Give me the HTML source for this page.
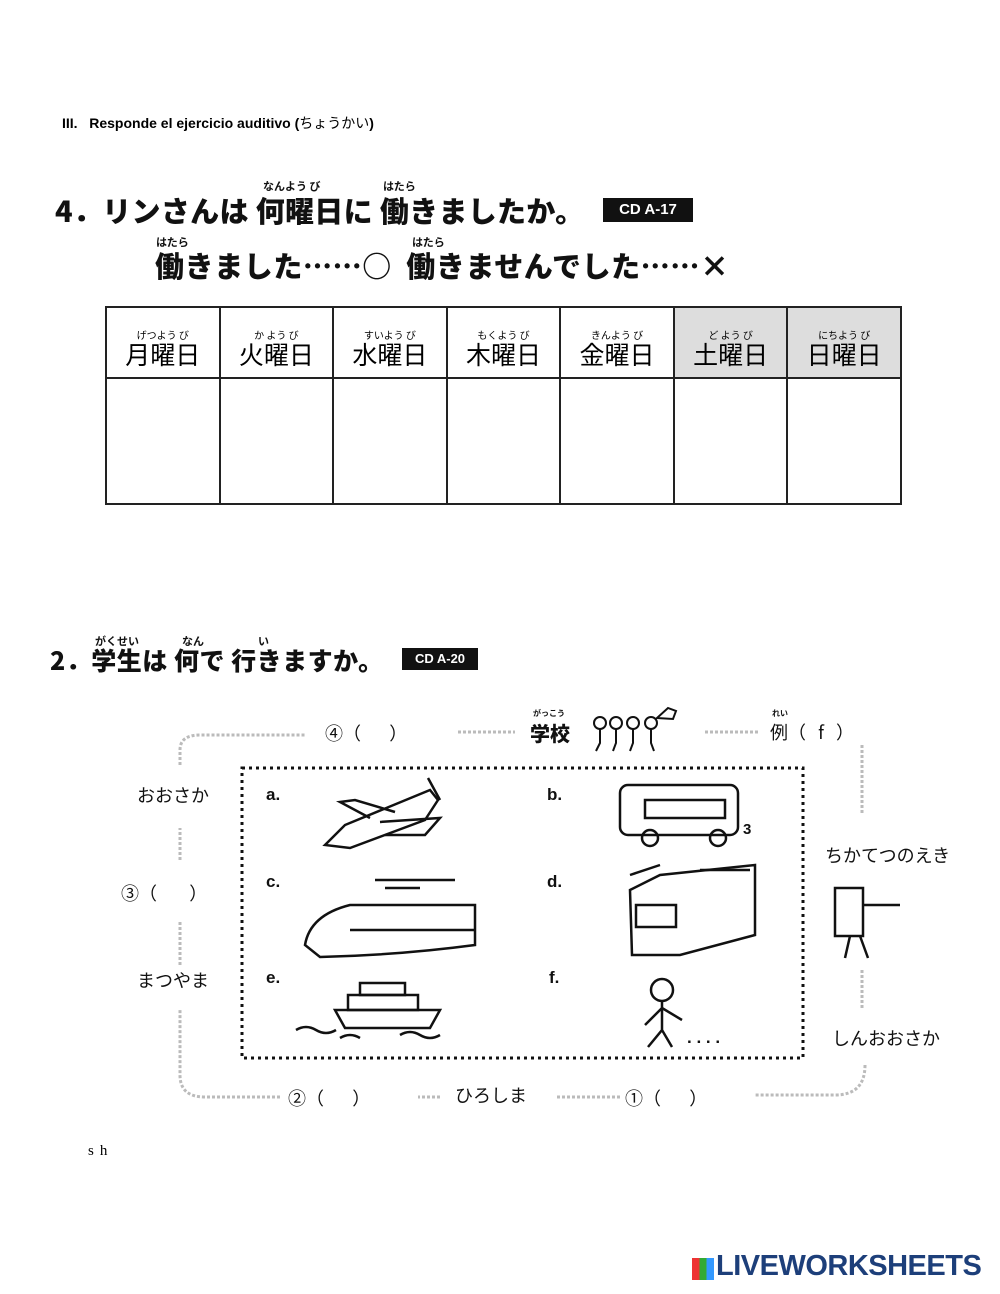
<!DOCTYPE html>
<html><head><meta charset="utf-8"><style>
body{margin:0;width:1000px;height:1294px;background:#fff;position:relative;font-family:"Liberation Sans","Noto Sans CJK JP",sans-serif;overflow:hidden}
.a{position:absolute;white-space:nowrap}
.h{font-family:"Noto Sans CJK JP",sans-serif;font-weight:900;color:#111}
.rb{font-size:11px;font-weight:700}
.cd{background:#111;color:#fff;font-weight:700;font-size:15px;text-align:center}
table{position:absolute;left:105px;top:306px;border-collapse:collapse;table-layout:fixed;width:797px}
td{border:2px solid #222;padding:0;text-align:center;font-family:"Noto Sans CJK JP",sans-serif;box-sizing:border-box}
td.h1{height:71px;font-size:25px;line-height:1;vertical-align:bottom;padding-bottom:10px}
td.h1 small{display:block;font-size:10px;margin-bottom:2px}
td.g{background:#ddd}
td.b{height:126px}
.j{font-family:"Noto Sans CJK JP",sans-serif;font-size:18px;color:#111}
</style></head><body>
<div class="a" style="left:62px;top:113px;font-size:14px;font-weight:700">III.&nbsp;&nbsp; Responde el ejercicio auditivo (<span style="font-weight:400;font-family:'Noto Sans CJK JP'">ちょうかい</span>)</div>

<div class="a h rb" style="left:263px;top:178px">なんよう び</div>
<div class="a h rb" style="left:383px;top:178px">はたら</div>
<div class="a h" style="left:55px;top:190px;font-size:29px;line-height:40px;letter-spacing:0.3px">4．リンさんは 何曜日に 働きましたか。</div>
<div class="a cd" style="left:603px;top:198px;width:90px;height:24px;line-height:24px">CD A-17</div>
<div class="a h rb" style="left:156px;top:234px">はたら</div>
<div class="a h rb" style="left:412px;top:234px">はたら</div>
<div class="a h" style="left:155px;top:245px;font-size:29px;line-height:40px;letter-spacing:0.6px">働きました……○&nbsp; 働きませんでした……×</div>

<table><tr>
<td class="h1"><small>げつよう び</small>月曜日</td><td class="h1"><small>か よう び</small>火曜日</td><td class="h1"><small>すいよう び</small>水曜日</td><td class="h1"><small>もくよう び</small>木曜日</td><td class="h1"><small>きんよう び</small>金曜日</td><td class="h1 g"><small>ど よう び</small>土曜日</td><td class="h1 g"><small>にちよう び</small>日曜日</td>
</tr><tr><td class="b"></td><td class="b"></td><td class="b"></td><td class="b"></td><td class="b"></td><td class="b"></td><td class="b"></td></tr></table>

<div class="a h rb" style="left:95px;top:633px">がくせい</div>
<div class="a h rb" style="left:182px;top:633px">なん</div>
<div class="a h rb" style="left:258px;top:633px">い</div>
<div class="a h" style="left:50px;top:642px;font-size:25px;line-height:36px;letter-spacing:0.5px">2．学生は 何で 行きますか。</div>
<div class="a cd" style="left:402px;top:648px;width:76px;height:22px;line-height:22px;font-size:13px">CD A-20</div>

<svg class="a" style="left:0;top:0" width="1000" height="1294">
<g stroke="#bbb" stroke-width="3" fill="none" stroke-dasharray="3 2">
<path d="M180 765 V750 Q180 735 200 735 H305"/>
<path d="M458 732 H515"/><path d="M705 732 H760"/>
<path d="M862 745 V815"/><path d="M862 970 V1010"/>
<path d="M865 1065 Q865 1095 835 1095 H755"/>
<path d="M620 1097 H555"/><path d="M440 1097 H418"/>
<path d="M280 1097 H205 Q180 1097 180 1075 V1010"/>
<path d="M180 860 V828"/><path d="M180 965 V920"/>
</g>
<rect x="242" y="768" width="561" height="290" fill="none" stroke="#111" stroke-width="3" stroke-dasharray="3 4"/>
<g stroke="#111" stroke-width="2.5" fill="none">
<path d="M325 845 L345 825 L430 790 L438 800 L425 820 L350 848 Z"/><path d="M370 818 L340 802 L355 800 L395 812"/><path d="M380 822 L440 818 L425 835 L385 835"/><path d="M428 778 L440 800"/>
<rect x="620" y="785" width="118" height="50" rx="8"/><path d="M645 800 h80 v18 h-80z"/><circle cx="650" cy="838" r="8"/><circle cx="718" cy="838" r="8"/>
<path d="M305 945 Q310 915 350 905 H475 V945 Q400 955 320 957 Z"/><path d="M350 930 H475"/><path d="M375 880 H455 M385 888 H420"/>
<path d="M630 890 L660 875 L755 865 V935 L680 955 H632 Z"/><rect x="636" y="905" width="40" height="22"/><path d="M630 875 L660 865 M700 870 H750"/>
<path d="M335 1010 H440 L430 1028 H345 Z"/><rect x="348" y="995" width="70" height="15"/><rect x="360" y="983" width="45" height="12"/><path d="M296 1030 q10 -6 20 0 q10 6 20 0 M400 1035 q10 -6 20 0 q10 6 20 0 M340 1038 q10-6 20 0"/>
<circle cx="662" cy="990" r="11"/><path d="M662 1001 V1030 L648 1047 M662 1030 L672 1047 M662 1008 L645 1025 M662 1008 L682 1020"/>
<g stroke-width="2"><circle cx="600" cy="723" r="6"/><circle cx="616" cy="723" r="6"/><circle cx="633" cy="723" r="6"/><circle cx="651" cy="723" r="6"/>
<path d="M600 729v14l-4 8M616 729v14l-3 8M633 729v14l-3 8M651 729v14l3 8M657 718 L668 708 l8 3 -3 8z"/></g>
<rect x="835" y="888" width="28" height="48"/><path d="M850 936 L845 958 M860 936 L868 958 M863 905 H900"/>
</g>
<g font-family="Liberation Sans" font-weight="700" font-size="17" fill="#111">
<text x="266" y="800">a.</text><text x="547" y="800">b.</text><text x="266" y="887">c.</text><text x="547" y="887">d.</text><text x="266" y="983">e.</text><text x="549" y="983">f.</text>
<text x="687" y="1043">. . . .</text><text x="743" y="834" font-size="15">3</text>
</g>
</svg>

<div class="a j" style="left:325px;top:720px">④（&nbsp;&nbsp;&nbsp;&nbsp;&nbsp;&nbsp;&nbsp;）</div>
<div class="a h rb" style="left:533px;top:708px;font-size:8px">がっこう</div>
<div class="a h" style="left:530px;top:718px;font-size:20px">学校</div>
<div class="a h rb" style="left:772px;top:708px;font-size:8px">れい</div>
<div class="a j" style="left:770px;top:719px">例（&nbsp;&nbsp; f&nbsp;&nbsp; ）</div>
<div class="a j" style="left:137px;top:782px">おおさか</div>
<div class="a j" style="left:121px;top:880px">③（&nbsp;&nbsp;&nbsp;&nbsp;&nbsp;&nbsp;&nbsp;&nbsp;）</div>
<div class="a j" style="left:137px;top:967px">まつやま</div>
<div class="a j" style="left:825px;top:842px">ちかてつのえき</div>
<div class="a j" style="left:832px;top:1025px">しんおおさか</div>
<div class="a j" style="left:288px;top:1085px">②（&nbsp;&nbsp;&nbsp;&nbsp;&nbsp;&nbsp;&nbsp;）</div>
<div class="a j" style="left:455px;top:1082px">ひろしま</div>
<div class="a j" style="left:625px;top:1085px">①（&nbsp;&nbsp;&nbsp;&nbsp;&nbsp;&nbsp;&nbsp;）</div>
<div class="a" style="left:88px;top:1143px;font-size:15px;letter-spacing:6px;font-family:'Liberation Serif'">sh</div>

<div class="a" style="left:692px;top:1258px;width:22px;height:22px;background:linear-gradient(90deg,#e33 0 33%,#3a3 33% 66%,#39f 66%)"></div>
<div class="a" style="left:716px;top:1250px;font-size:29px;font-weight:700;color:#1d3f7a;letter-spacing:-0.5px">LIVEWORKSHEETS</div>
</body></html>
